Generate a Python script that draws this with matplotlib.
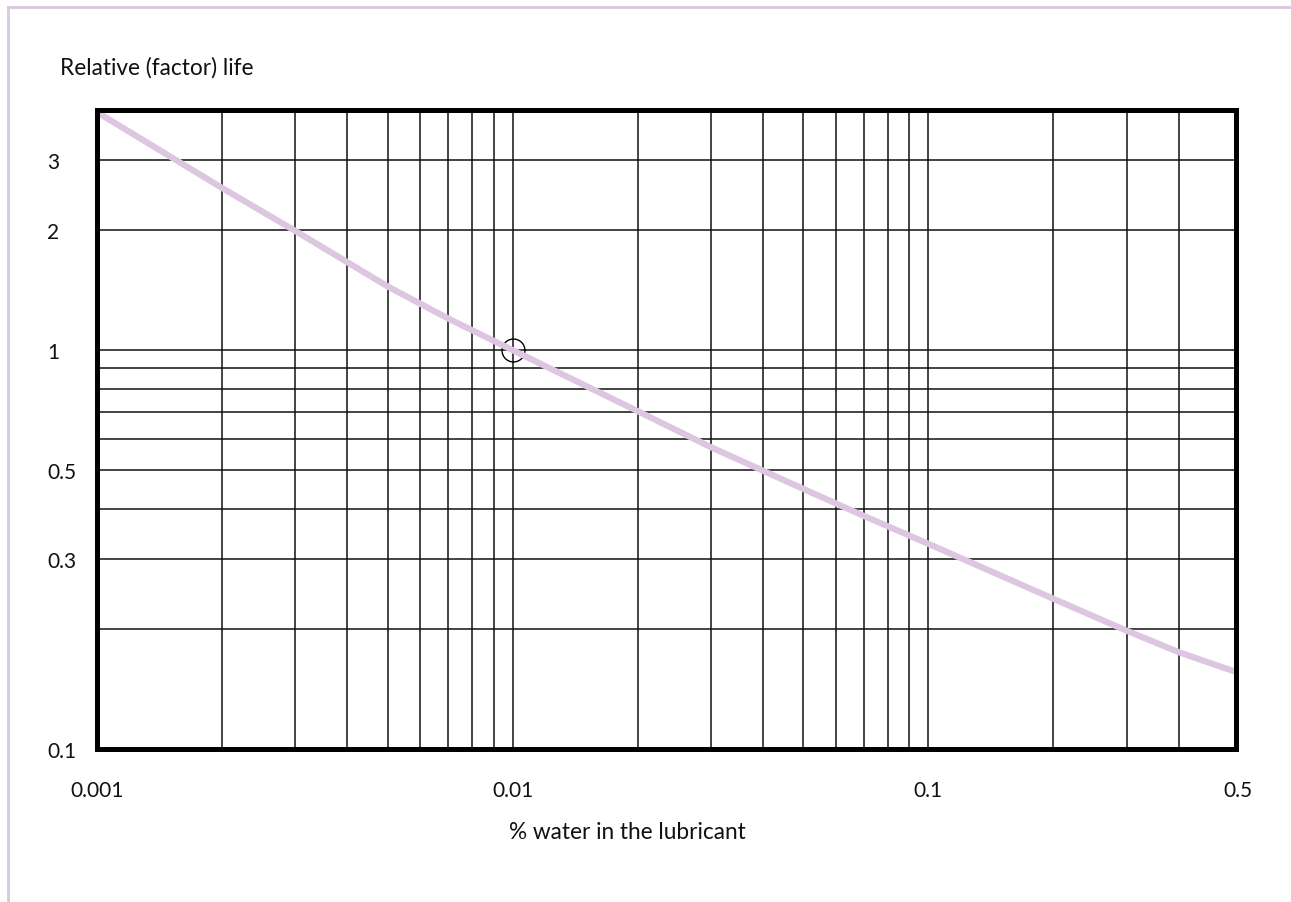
import matplotlib
matplotlib.use('Agg')
import matplotlib.pyplot as plt
import matplotlib.transforms as mtransforms
from matplotlib.lines import Line2D
from matplotlib.ticker import NullLocator

# ---- data ----
water_pct = [0.001, 0.002, 0.003, 0.005, 0.007, 0.01, 0.02, 0.03, 0.05, 0.07,
             0.1, 0.2, 0.3, 0.4, 0.55]
rel_life = [3.95, 2.55, 1.99, 1.445, 1.20, 1.0, 0.703, 0.571, 0.449, 0.384,
            0.327, 0.238, 0.198, 0.175, 0.156]

ref_x = [0.01]
ref_y = [1.0]

x_ticks = [0.001, 0.01, 0.1, 0.5]
x_tick_labels = ['0.001', '0.01', '0.1', '0.5']
y_ticks = [0.1, 0.3, 0.5, 1, 2, 3]
y_tick_labels = ['0.1', '0.3', '0.5', '1', '2', '3']

x_grid = [0.002, 0.003, 0.004, 0.005, 0.006, 0.007, 0.008, 0.009, 0.01,
          0.02, 0.03, 0.04, 0.05, 0.06, 0.07, 0.08, 0.09, 0.1,
          0.2, 0.3, 0.4]
y_grid = [0.2, 0.3, 0.4, 0.5, 0.6, 0.7, 0.8, 0.9, 1, 2, 3]

x_label = '% water in the lubricant'
y_label = 'Relative (factor) life'

# ---- figure ----
plt.rcParams['font.family'] = ['Lato', 'DejaVu Sans']
W, H = 1291, 903
fig = plt.figure(figsize=(W / 100, H / 100), dpi=100)
fig.patch.set_facecolor('white')

ax = fig.add_axes([97 / W, 1 - 750 / H, (1236 - 97) / W, (750 - 111) / H])
ax.set_xscale('log')
ax.set_yscale('log')
ax.set_xlim(0.001, 0.55)
ax.set_ylim(0.1, 4)

for v in x_grid:
    ax.axvline(v, color='#111111', lw=1.1, zorder=1)
for v in y_grid:
    ax.axhline(v, color='#111111', lw=1.1, zorder=1)

ax.plot(ref_x, ref_y, linestyle='none', marker='o', ms=16.5, mfc='none',
        mec='black', mew=1.0, zorder=2)
ax.plot(water_pct, rel_life, color='#dcc6e0', lw=4.5,
        solid_capstyle='butt', solid_joinstyle='round', zorder=3)

ax.set_xticks(x_ticks)
ax.set_xticklabels(x_tick_labels)
ax.set_yticks(y_ticks)
ax.set_yticklabels(y_tick_labels)
ax.xaxis.set_minor_locator(NullLocator())
ax.yaxis.set_minor_locator(NullLocator())
ax.tick_params(length=0, labelsize=15, colors='#111111')
ax.tick_params(axis='x', pad=22)
ax.tick_params(axis='y', pad=36)
for lbl in ax.get_yticklabels():
    lbl.set_horizontalalignment('left')

# right-most x label sits at the frame edge in the reference
last_tick = ax.xaxis.get_major_ticks()[-1]
last_tick.label1.set_transform(
    last_tick.label1.get_transform()
    + mtransforms.ScaledTranslation(19 / 100, 0, fig.dpi_scale_trans))

for sp in ax.spines.values():
    sp.set_linewidth(3.6)
    sp.set_color('black')
    sp.set_zorder(5)

fig.text(60 / W, 1 - 68 / H, y_label, ha='left', va='center',
         fontsize=16.3, color='#111111')
fig.text(627 / W, 1 - 833 / H, x_label, ha='center', va='center',
         fontsize=16.3, color='#111111')

# decorative lavender border (top and left)
border = '#d8c8e0'
fig.add_artist(Line2D([8 / W, 1], [1 - 8 / H, 1 - 8 / H],
                      transform=fig.transFigure, color=border, lw=2))
fig.add_artist(Line2D([8 / W, 8 / W], [0, 1 - 8 / H],
                      transform=fig.transFigure, color=border, lw=2))

fig.savefig('out.png', dpi=100, facecolor='white')
